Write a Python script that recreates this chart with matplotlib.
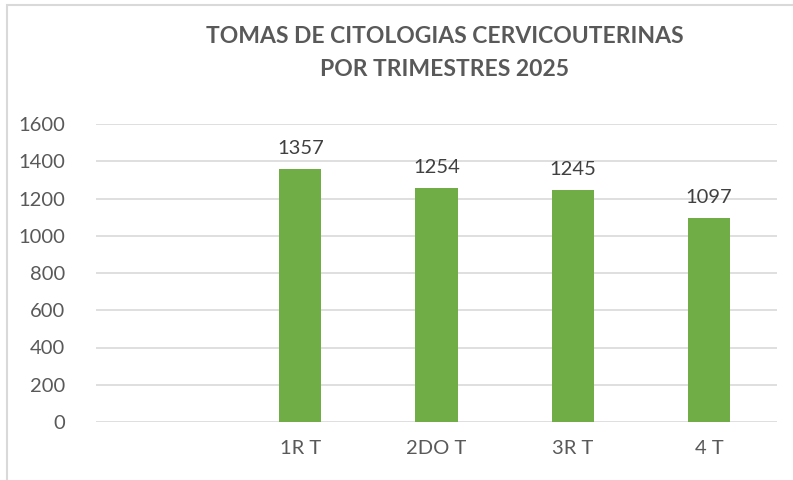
import matplotlib.pyplot as plt
from matplotlib.patches import Rectangle
import numpy as np

# Data
categories = ['', '1R T', '2DO T', '3R T', '4 T']
values = [np.nan, 1357, 1254, 1245, 1097]

plt.rcParams['font.family'] = ['Lato', 'DejaVu Sans']

fig = plt.figure(figsize=(7.93, 4.80), dpi=100)
ax = fig.add_axes([96 / 793, 1 - 422 / 480, (777 - 96) / 793, (422 - 124) / 480])

x = np.arange(len(categories))
bars = ax.bar(x, values, width=0.31, color='#70AD47', zorder=3)

# Data labels
for xi, v in zip(x, values):
    if not np.isnan(v):
        ax.text(xi, v + 65, f'{int(v)}', ha='center', va='bottom',
                fontsize=14.5, color='#404040')

ax.set_xlim(-0.5, len(categories) - 0.5)
ax.set_ylim(0, 1600)
ax.set_yticks(np.arange(0, 1601, 200))
ax.set_xticks(x)
ax.set_xticklabels(categories)
ax.tick_params(axis='both', length=0, labelsize=14.5, colors='#595959')
ax.tick_params(axis='x', pad=13)
ax.tick_params(axis='y', pad=22)
ax.grid(axis='y', color='#d9d9d9', linewidth=1.2, zorder=0)
for s in ax.spines.values():
    s.set_visible(False)

fig.text(445 / 793, 1 - 53 / 480, 'TOMAS DE CITOLOGIAS CERVICOUTERINAS\nPOR TRIMESTRES 2025',
         ha='center', va='center', fontsize=16.5, fontweight='bold', color='#595959',
         linespacing=1.7)

# Chart border
fig.patches.append(Rectangle((7 / 793, -0.05), 1.0, 1 - 5 / 480 + 0.05,
                             transform=fig.transFigure, fill=False,
                             edgecolor='#d9d9d9', linewidth=1.5))

fig.savefig('out.png', dpi=100)
